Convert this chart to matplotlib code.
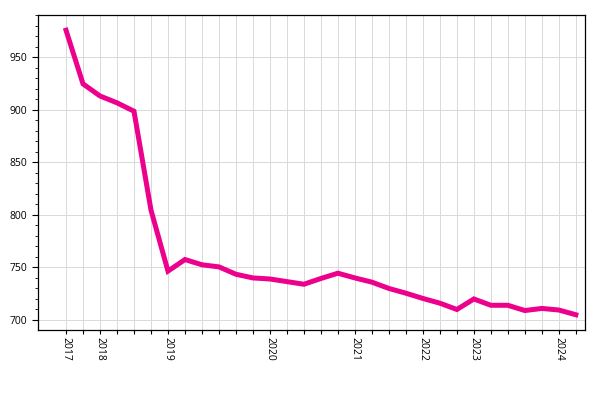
import matplotlib
matplotlib.use("Agg")
import matplotlib.pyplot as plt
from matplotlib.ticker import MultipleLocator

# values, one point per period (31 points)
values = [975.5, 924.5, 913, 906.5, 898.5, 804.5, 746.5, 757.5, 752.5, 750.5,
          743.5, 740, 739, 736.5, 734, 739.5, 744.5, 740, 736, 730,
          725.5, 720.5, 716, 710, 720, 714, 714, 709, 711, 709.5, 705]
# indices where a year label is shown
year_pos = [0, 2, 6, 12, 17, 21, 24, 29]
year_labels = ["2017", "2018", "2019", "2020", "2021", "2022", "2023", "2024"]

plt.rcParams['font.family'] = ['Open Sans', 'DejaVu Sans']

fig = plt.figure(figsize=(6, 4), dpi=100)
ax = fig.add_axes([0.0633, 0.175, 0.912, 0.7875])

x = list(range(len(values)))
ax.plot(x, values, color='#EC008C', linewidth=3.6, solid_joinstyle='miter')

ax.set_xlim(-1.65, 30.55)
ax.set_ylim(690.5, 990)

# ticks at every point, labels only at year starts
ax.set_xticks(x)
ax.set_xticklabels([year_labels[year_pos.index(i)] if i in year_pos else "" for i in x],
                   rotation=-90, fontsize=7.5)
ax.yaxis.set_major_locator(MultipleLocator(50))
ax.yaxis.set_minor_locator(MultipleLocator(10))
ax.tick_params(axis='y', labelsize=7.5, length=4, width=0.8)
ax.tick_params(axis='y', which='minor', length=2, width=0.6)
ax.tick_params(axis='x', length=3, width=0.8, pad=2)

ax.grid(True, color='#d9d9d9', linewidth=0.7)
ax.set_axisbelow(True)
for s in ax.spines.values():
    s.set_linewidth(0.9)

fig.savefig("out.png", dpi=100)
